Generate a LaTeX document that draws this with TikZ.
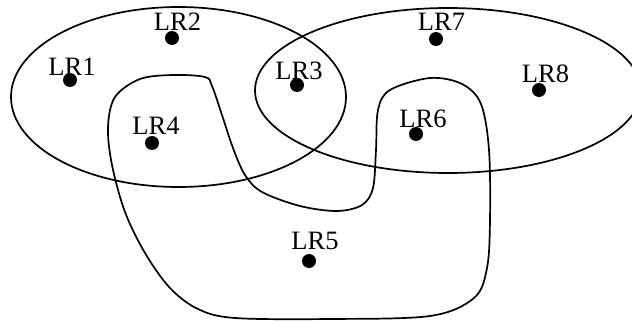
\documentclass[tikz,border=0pt]{standalone}
\usepackage{fontspec}
\setmainfont{Liberation Serif}
\begin{document}
\begin{tikzpicture}[x=1pt,y=-1pt,
  region/.style={line width=1.7pt},
  site/.style={circle,fill=black,inner sep=0pt,minimum size=14pt},
  tag/.style={anchor=base,inner sep=0pt,font=\fontsize{26.5}{26.5}\selectfont}]
\useasboundingbox (0,0) rectangle (632,321);
\begin{scope}
  \clip (0,0) rectangle (632,321);
  % left and right regions
  \draw[region] (178.5,97) ellipse [x radius=167.5pt, y radius=90pt];
  \draw[region] (448,90.5) ellipse [x radius=193pt, y radius=82.5pt];
  % lower U-shaped region
  \draw[region] plot[smooth cycle, tension=0.55] coordinates {
    (140,79) (173,75) (205,77) (212,86) (222,115) (233,148) (245,175)
    (262,192) (300,206) (337,211) (362,205) (373,188) (376,150) (378,110)
    (390,90) (430,78) (462,84) (481,104) (489,150) (490,220) (487,268)
    (474,298) (430,316) (330,319) (235,318) (198,309) (170,288) (145,253)
    (125,212) (112,165) (108,127) (115,97)};
\end{scope}
% sites
\node[site] (lr1) at (70,80) {};
\node[site] (lr2) at (172,38) {};
\node[site] (lr3) at (297,85) {};
\node[site] (lr4) at (152,143) {};
\node[site] (lr5) at (309,261) {};
\node[site] (lr6) at (416,134) {};
\node[site] (lr7) at (436,39) {};
\node[site] (lr8) at (539,90) {};
% labels
\node[tag] (t1) at (72,75) {LR1};
\node[tag] (t2) at (177.5,31) {LR2};
\node[tag] (t3) at (299,79) {LR3};
\node[tag] (t4) at (156,134) {LR4};
\node[tag] (t5) at (315,249) {LR5};
\node[tag] (t6) at (423,128) {LR6};
\node[tag] (t7) at (441.5,31) {LR7};
\node[tag] (t8) at (545.5,82) {LR8};
\end{tikzpicture}
\end{document}
